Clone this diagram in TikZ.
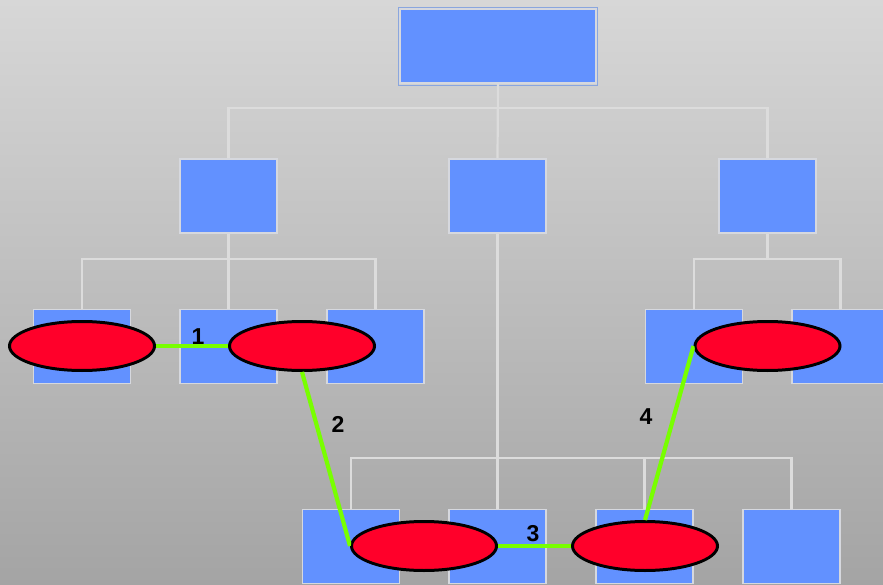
\documentclass[tikz,border=0pt]{standalone}
\usepackage{fontspec}
\setmainfont{Liberation Sans}
\usetikzlibrary{shapes.geometric}
\definecolor{bgtop}{RGB}{215,215,215}
\definecolor{bgbot}{RGB}{164,164,164}
\definecolor{boxblue}{RGB}{98,145,255}
\definecolor{boxedge}{RGB}{214,216,222}
\definecolor{topedge}{RGB}{138,166,222}
\definecolor{wire}{RGB}{220,220,220}
\definecolor{ovalred}{RGB}{255,0,42}
\definecolor{linkgreen}{RGB}{120,255,0}
\tikzset{
  orgbox/.style={draw=boxedge, line width=1.5pt, fill=boxblue, minimum width=97pt, minimum height=74pt, inner sep=0pt},
  topbox/.style={orgbox, minimum width=196pt, minimum height=74pt},
  oval/.style={ellipse, draw=black, line width=2pt, fill=ovalred, minimum width=146pt, minimum height=50pt, inner sep=0pt},
  wireline/.style={draw=wire, line width=2.2pt},
  link/.style={draw=linkgreen, line width=4.2pt},
  num/.style={font=\bfseries\fontsize{23}{23}\selectfont, text=black, inner sep=0pt}
}
\begin{document}
\begin{tikzpicture}[x=1pt,y=-1pt]
\shade[top color=bgtop, bottom color=bgbot] (0,0) rectangle (883,585);
\useasboundingbox (0,0) rectangle (883,585);
% top
\draw[topedge, line width=1pt] (398.5,7.5) rectangle (597.5,85.5);
\node[topbox] (top) at (498,46) {};
% level 2
\node[orgbox] (a) at (228.5,196) {};
\node[orgbox] (b) at (497.5,196) {};
\node[orgbox] (c) at (767.5,196) {};
% level 3
\node[orgbox] (a1) at (82,346.5) {};
\node[orgbox] (a2) at (228.5,346.5) {};
\node[orgbox] (a3) at (375.5,346.5) {};
\node[orgbox] (c1) at (694,346.5) {};
\node[orgbox] (c2) at (840.5,346.5) {};
% level 4
\node[orgbox] (b1) at (351,546.5) {};
\node[orgbox] (b2) at (497.5,546.5) {};
\node[orgbox] (b3) at (644.5,546.5) {};
\node[orgbox] (b4) at (791.5,546.5) {};
% bus coordinates
\coordinate (busT) at (498,108);
\coordinate (busA) at (228.5,259);
\coordinate (busC) at (767.5,259);
\coordinate (busB) at (497.5,458);
% wires
\path[wireline] (top.south) -- (busT);
\path[wireline] (busT) -| (a.north);
\path[wireline] (busT) -| (c.north);
\path[wireline] (top.south) -- (b.north);
\path[wireline] (a.south) -- (busA);
\path[wireline] (busA) -| (a1.north);
\path[wireline] (busA) -| (a3.north);
\path[wireline] (busA) -- (a2.north);
\path[wireline] (c.south) -- (busC);
\path[wireline] (busC) -| (c1.north);
\path[wireline] (busC) -| (c2.north);
\path[wireline] (b.south) -- (busB);
\path[wireline] (busB) -| (b1.north);
\path[wireline] (busB) -| (b4.north);
\path[wireline] (busB) -| (b3.north);
\path[wireline] (busB) -- (b2.north);
% redraw boxes on top of wires
\node[topbox] at (top) {};
\foreach \n in {a,b,c,a1,a2,a3,c1,c2,b1,b2,b3,b4} {\node[orgbox] at (\n) {};}
% ovals
\node[oval] (e1) at (82,346) {};
\node[oval] (e2) at (302,346) {};
\node[oval] (e3) at (424,546) {};
\node[oval] (e4) at (645,546) {};
\node[oval] (e5) at (767.5,346) {};
% links
\path[link] (e1.east) -- (e2.west);
\path[link] (e2.south) -- (e3.west);
\path[link] (e3.east) -- (e4.west);
\path[link] (e4.north) -- (e5.west);
% redraw ovals' outlines over link ends
\foreach \n in {e1,e2,e3,e4,e5} {\draw[black, line width=2pt] (\n.center) ellipse (72pt and 24pt);}
% labels
\node[num] (n1) at (198,337) {1};
\node[num] (n2) at (338,424) {2};
\node[num] (n3) at (533,534) {3};
\node[num] (n4) at (646,417) {4};
\end{tikzpicture}
\end{document}
